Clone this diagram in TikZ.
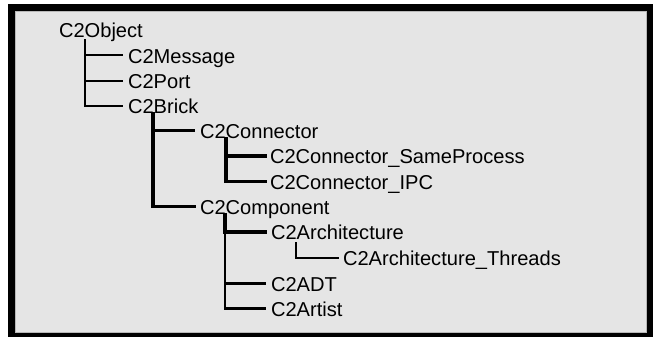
\documentclass[tikz,border=0pt]{standalone}
\usepackage{fontspec}
\setmainfont{Liberation Sans}
\definecolor{panel}{HTML}{E5E5E5}
\definecolor{edge}{HTML}{B8B8B8}
\begin{document}
\begin{tikzpicture}[x=1pt,y=-1pt,
  cls/.style={anchor=west,inner sep=0pt,outer sep=0pt,text height=13.8pt,text depth=0pt,
    font=\fontsize{20.1}{24}\selectfont,text=black},
  branch/.style={draw=black,line width=2.6pt,line cap=rect,line join=miter},
  thinbranch/.style={branch,line width=2pt}]
\useasboundingbox (0,0) rectangle (653,337);
\fill[black] (8,4) rectangle (653,337);
\filldraw[fill=panel,draw=edge,line width=0.8pt] (15,11) rectangle (646.5,332);
% nodes
\node[cls] (obj)  at (59,31)    {C2Object};
\node[cls] (msg)  at (128,56.5) {C2Message};
\node[cls] (port) at (128,81.5) {C2Port};
\node[cls] (brk)  at (128,106.5){C2Brick};
\node[cls] (con)  at (200,131.5){C2Connector};
\node[cls] (csp)  at (270,157)  {C2Connector\_SameProcess};
\node[cls] (cipc) at (270,182.5){C2Connector\_IPC};
\node[cls] (comp) at (200,207.5){C2Component};
\node[cls] (arch) at (271,233)  {C2Architecture};
\node[cls] (thr)  at (343,259)  {C2Architecture\_Threads};
\node[cls] (adt)  at (271,284.5){C2ADT};
\node[cls] (art)  at (271,309.5){C2Artist};
% connectors
\draw[thinbranch] ([xshift=26pt,yshift=-2pt]obj.south west) |- ([xshift=-6pt,yshift=1pt]msg.west);
\draw[thinbranch] ([xshift=26pt,yshift=-2pt]obj.south west) |- ([xshift=-6pt,yshift=1pt]port.west);
\draw[thinbranch] ([xshift=26pt,yshift=-2pt]obj.south west) |- ([xshift=-6pt,yshift=1pt]brk.west);
\draw[branch] ([xshift=25pt,yshift=-0.5pt]brk.south west) |- ([xshift=-6pt,yshift=1pt]con.west);
\draw[branch,line width=3.2pt] ([xshift=25pt,yshift=-0.5pt]brk.south west) |- ([xshift=-6pt,yshift=1pt]comp.west);
\draw[branch,line width=3.2pt] ([xshift=26pt,yshift=-0.5pt]con.south west) |- ([xshift=-5pt,yshift=1pt]csp.west);
\draw[branch,line width=3.2pt] ([xshift=26pt,yshift=-0.5pt]con.south west) |- ([xshift=-5pt,yshift=1pt]cipc.west);
\draw[branch,line width=3.2pt] ([xshift=25pt,yshift=-0.5pt]comp.south west) |- ([xshift=-6pt,yshift=1pt]arch.west);
\draw[branch] ([xshift=25pt,yshift=-0.5pt]comp.south west) |- ([xshift=-6pt,yshift=1pt]adt.west);
\draw[branch] ([xshift=25pt,yshift=-0.5pt]comp.south west) |- ([xshift=-6pt,yshift=1pt]art.west);
\draw[thinbranch,line width=2.4pt] ([xshift=25pt,yshift=-3pt]arch.south west) |- ([xshift=-5pt,yshift=1pt]thr.west);
\end{tikzpicture}
\end{document}
